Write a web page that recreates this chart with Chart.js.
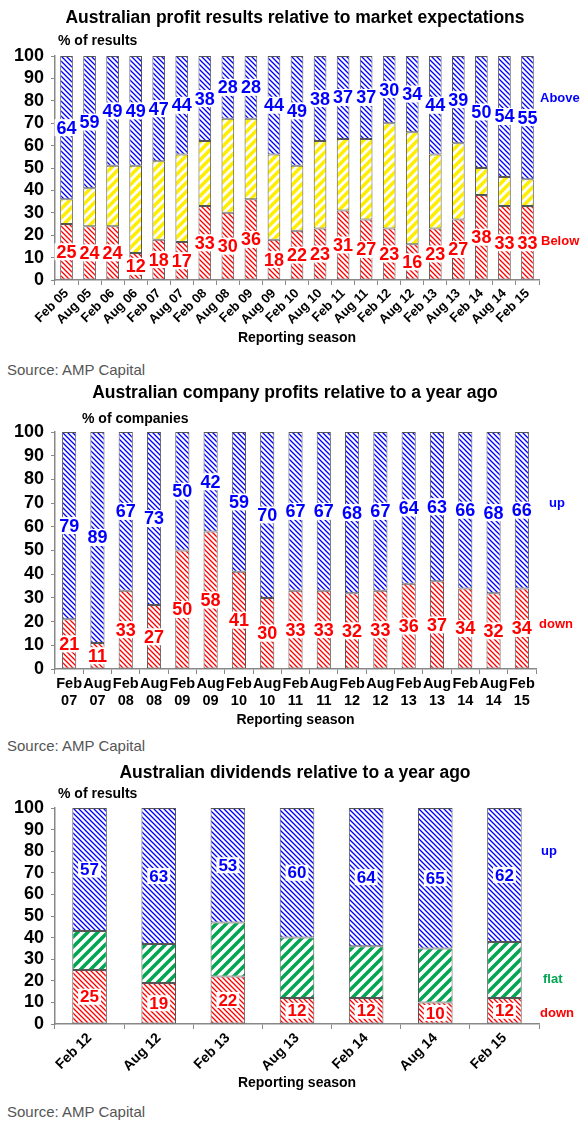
<!DOCTYPE html>
<html>
<head>
<meta charset="utf-8">
<script src="https://cdn.jsdelivr.net/npm/chart.js@4.4.1/dist/chart.umd.min.js"></script>
<style>
  body { margin: 0; background: #fff; width: 580px; height: 1137px; position: relative; overflow: hidden;
         font-family: "Liberation Sans", Arial, sans-serif; }
  .title { position: absolute; left: 10px; width: 570px; text-align: center; font-weight: bold; font-size: 17.5px; line-height: 20px; }
  .unit { position: absolute; font-weight: bold; font-size: 14px; line-height: 16px; }
  .source { position: absolute; left: 7px; font-size: 15px; line-height: 18px; color: #555; }
  canvas { position: absolute; left: 0; }
</style>
</head>
<body>
<canvas id="chart1" width="580" height="350" style="top:0"></canvas>
<canvas id="chart2" width="580" height="352" style="top:380px"></canvas>
<canvas id="chart3" width="580" height="335" style="top:760px"></canvas>

<div class="title" style="top:7px">Australian profit results relative to market expectations</div>
<div class="unit" style="top:32px;left:58px">% of results</div>
<div class="source" style="top:361px">Source: AMP Capital</div>

<div class="title" style="top:382px">Australian company profits relative to a year ago</div>
<div class="unit" style="top:410px;left:82px">% of companies</div>
<div class="source" style="top:737px">Source: AMP Capital</div>

<div class="title" style="top:762px">Australian dividends relative to a year ago</div>
<div class="unit" style="top:785px;left:58px">% of results</div>
<div class="source" style="top:1103px">Source: AMP Capital</div>

<script>
// chart 1: results vs expectations
const seasons1 = ['Feb 05','Aug 05','Feb 06','Aug 06','Feb 07','Aug 07','Feb 08','Aug 08','Feb 09','Aug 09','Feb 10',
                  'Aug 10','Feb 11','Aug 11','Feb 12','Aug 12','Feb 13','Aug 13','Feb 14','Aug 14','Feb 15'];
const below1 = [25,24,24,12,18,17,33,30,36,18,22,23,31,27,23,16,23,27,38,33,33];
const inline1 = [11,17,27,39,35,39,29,42,36,38,29,39,32,36,47,50,33,34,12,13,12];
const above1 = [64,59,49,49,47,44,38,28,28,44,49,38,37,37,30,34,44,39,50,54,55];

// chart 2: profits vs a year ago
const seasons2 = ['Feb 07','Aug 07','Feb 08','Aug 08','Feb 09','Aug 09','Feb 10','Aug 10','Feb 11',
                  'Aug 11','Feb 12','Aug 12','Feb 13','Aug 13','Feb 14','Aug 14','Feb 15'];
const down2 = [21,11,33,27,50,58,41,30,33,33,32,33,36,37,34,32,34];
const up2 = [79,89,67,73,50,42,59,70,67,67,68,67,64,63,66,68,66];

// chart 3: dividends vs a year ago
const seasons3 = ['Feb 12','Aug 12','Feb 13','Aug 13','Feb 14','Aug 14','Feb 15'];
const down3 = [25,19,22,12,12,10,12];
const flat3 = [18,18,25,28,24,25,26];
const up3 = [57,63,53,60,64,65,62];

const FONT = '"Liberation Sans", Arial, sans-serif';
Chart.defaults.font.family = FONT;
Chart.defaults.color = '#000';

const BLUE = '#0000ff', RED = '#ff0000', GREEN = '#00a651';

// diagonal hatch fill, dir '\\' or '/'
function hatch(color, size, lw, dir) {
  const c = document.createElement('canvas');
  c.width = c.height = size;
  const g = c.getContext('2d');
  g.fillStyle = '#fff';
  g.fillRect(0, 0, size, size);
  g.strokeStyle = color;
  g.lineWidth = lw;
  g.beginPath();
  for (let k = -1; k <= 2; k++) {
    if (dir === '\\') { g.moveTo(-1, k * size - 1); g.lineTo(size + 1, (k + 1) * size + 1); }
    else { g.moveTo(-1, k * size + 1); g.lineTo(size + 1, (k - 1) * size - 1); }
  }
  g.stroke();
  return g.createPattern(c, 'repeat');
}

const blueFill = hatch(BLUE, 5, 1.3, '\\');
const redFill = hatch(RED, 5, 1.3, '\\');
const yellowFill = hatch('#ffee00', 9, 3.5, '/');
const greenFill = hatch('#00a651', 10, 3.5, '/');

// value labels in the middle of each segment + series names at the right
const segLabels = {
  id: 'segLabels',
  afterDatasetsDraw(chart, args, opts) {
    const ctx = chart.ctx;
    ctx.save();
    ctx.textAlign = 'center';
    ctx.textBaseline = 'middle';
    ctx.font = 'bold ' + opts.size + 'px ' + FONT;
    chart.data.datasets.forEach((ds, i) => {
      if (!ds.labelColor) return;
      chart.getDatasetMeta(i).data.forEach((bar, j) => {
        const txt = String(ds.data[j]);
        const y = (bar.y + bar.base) / 2;
        const w = ctx.measureText(txt).width + 4;
        const h = opts.size - 1;
        ctx.fillStyle = '#fff';
        ctx.fillRect(bar.x - w / 2, y - h / 2, w, h);
        ctx.fillStyle = ds.labelColor;
        ctx.fillText(txt, bar.x, y + 1);
      });
    });
    const ys = chart.scales.y;
    ctx.textAlign = 'left';
    ctx.font = 'bold 13px ' + FONT;
    opts.names.forEach(n => {
      ctx.fillStyle = n.color;
      ctx.fillText(n.text, chart.chartArea.right + n.dx, ys.getPixelForValue(n.at));
    });
    ctx.restore();
  }
};

function makeChart(id, cfg) {
  return new Chart(document.getElementById(id), {
    type: 'bar',
    data: { labels: cfg.labels, datasets: cfg.datasets },
    plugins: [segLabels],
    options: {
      responsive: false,
      animation: false,
      events: [],
      layout: { padding: { top: cfg.top, right: 580 - cfg.right, left: 0, bottom: 0 } },
      datasets: { bar: { barPercentage: cfg.barPct, categoryPercentage: 1, borderColor: '#555', borderWidth: 1, borderSkipped: false } },
      plugins: {
        legend: { display: false },
        tooltip: { enabled: false },
        segLabels: { size: cfg.labelSize, names: cfg.names }
      },
      scales: {
        x: {
          stacked: true,
          afterFit: s => { s.height = cfg.xHeight; },
          border: { color: '#888', width: 1.5 },
          grid: { drawOnChartArea: false, tickLength: 5, color: '#888' },
          ticks: {
            autoSkip: false, minRotation: cfg.rot, maxRotation: cfg.rot, padding: cfg.rot ? 1 : 2,
            font: { size: cfg.xFont, weight: 'bold', lineHeight: 1.15 },
            callback: function (v) {
              const s = this.getLabelForValue(v);
              return cfg.rot ? s : s.split(' ');
            }
          },
          title: { display: true, text: 'Reporting season', font: { size: 14, weight: 'bold' }, padding: { top: 0, bottom: 3 } }
        },
        y: {
          stacked: true, min: 0, max: 100,
          afterFit: s => { s.width = 55; },
          border: { color: '#888', width: 1.5 },
          grid: { drawOnChartArea: false, tickLength: 4, color: '#888' },
          ticks: { stepSize: 10, autoSkip: false, padding: 7, font: { size: 18, weight: 'bold' } }
        }
      }
    }
  });
}

makeChart('chart1', {
  labels: seasons1, top: 56, right: 539, xHeight: 70, barPct: 0.55, rot: 45, xFont: 13, labelSize: 18,
  datasets: [
    { label: 'Below', data: below1, backgroundColor: redFill, labelColor: RED },
    { label: 'In line', data: inline1, backgroundColor: yellowFill },
    { label: 'Above', data: above1, backgroundColor: blueFill, labelColor: BLUE }
  ],
  names: [ { text: 'Above', at: 81, dx: 1, color: BLUE }, { text: 'Below', at: 17.4, dx: 2, color: RED } ]
});

makeChart('chart2', {
  labels: seasons2, top: 52, right: 536, xHeight: 63, barPct: 0.5, rot: 0, xFont: 14.5, labelSize: 18,
  datasets: [
    { label: 'down', data: down2, backgroundColor: redFill, labelColor: RED },
    { label: 'up', data: up2, backgroundColor: blueFill, labelColor: BLUE }
  ],
  names: [ { text: 'up', at: 70, dx: 13, color: BLUE }, { text: 'down', at: 18.6, dx: 3, color: RED } ]
});

makeChart('chart3', {
  labels: seasons3, top: 48, right: 539, xHeight: 71, barPct: 0.5, rot: 45, xFont: 14, labelSize: 17,
  datasets: [
    { label: 'down', data: down3, backgroundColor: redFill, labelColor: RED },
    { label: 'flat', data: flat3, backgroundColor: greenFill },
    { label: 'up', data: up3, backgroundColor: blueFill, labelColor: BLUE }
  ],
  names: [ { text: 'up', at: 80, dx: 2, color: BLUE }, { text: 'flat', at: 20.8, dx: 4, color: GREEN },
           { text: 'down', at: 5.1, dx: 1, color: RED } ]
});
</script>
</body>
</html>
